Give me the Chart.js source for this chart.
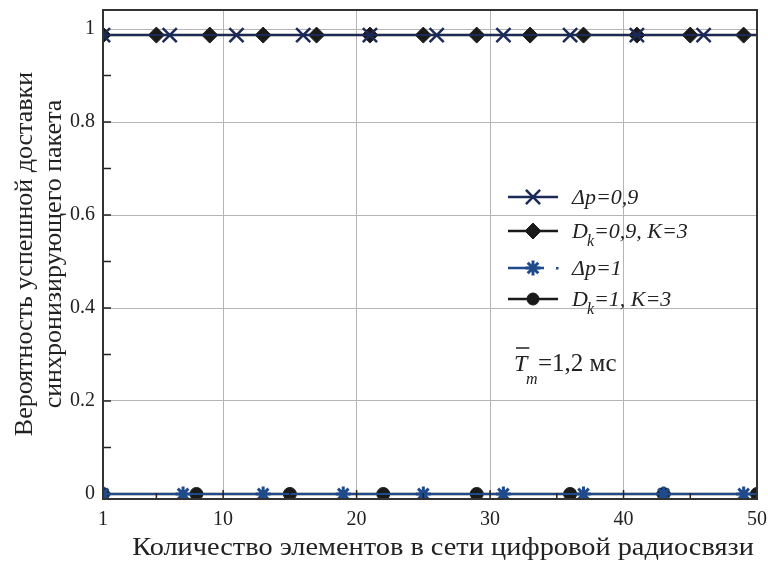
<!DOCTYPE html>
<html>
<head>
<meta charset="utf-8">
<script src="https://cdn.jsdelivr.net/npm/chart.js@4.4.1/dist/chart.umd.min.js"></script>
<style>
  html, body { margin: 0; padding: 0; background: #fff; }
  #wrap { width: 768px; height: 562px; position: relative; }
</style>
</head>
<body>
<div id="wrap"><canvas id="chart" width="768" height="562"></canvas></div>
<script>
// values
const dp09X = [1, 6, 11, 16, 21, 26, 31, 36, 41, 46, 50];
const dp09Y = [0.987, 0.987, 0.987, 0.987, 0.987, 0.987, 0.987, 0.987, 0.987, 0.987, 0.987];
const dk09X = [1, 5, 9, 13, 17, 21, 25, 29, 33, 37, 41, 45, 49, 50];
const dk09Y = [0.987, 0.987, 0.987, 0.987, 0.987, 0.987, 0.987, 0.987, 0.987, 0.987, 0.987, 0.987, 0.987, 0.987];
const dp1X = [1, 7, 13, 19, 25, 31, 37, 43, 49, 50];
const dp1Y = [0, 0, 0, 0, 0, 0, 0, 0, 0, 0];
const dk1X = [1, 8, 15, 22, 29, 36, 43, 50];
const dk1Y = [0, 0, 0, 0, 0, 0, 0, 0];

const xTicks = [1, 10, 20, 30, 40, 50];
const xMinor = [5, 15, 25, 35, 45];
const yTicks = [0, 0.2, 0.4, 0.6, 0.8, 1];
const yTickLabels = ['0', '0.2', '0.4', '0.6', '0.8', '1'];
const yMinor = [0.1, 0.3, 0.5, 0.7, 0.9];

const seriesNames = ['Δp=0,9', 'Dk=0,9, K=3', 'Δp=1', 'Dk=1, K=3'];
const xTitle = 'Количество элементов в сети цифровой радиосвязи';
const yTitle = ['Вероятность успешной доставки', 'синхронизирующего пакета'];

const NAVY = '#1c2a58';
const BLUE = '#1f4b8c';
const INK = '#1a1a1a';
const SERIF = '"Liberation Serif", "Times New Roman", serif';

function pts(xs, ys) {
    return xs.map((x, i) => ({ x: x, y: ys[i] }));
}

// the closing point at x=50 carries no marker unless it is one
function radiusFor(r, endMarker) {
    return ctx => (!endMarker && ctx.dataIndex === ctx.dataset.data.length - 1) ? 0 : r;
}

const frame = {
    id: 'frame',
    afterDatasetsDraw(chart) {
        const { ctx, chartArea: a, scales } = chart;
        const xs = scales.x, ys = scales.y;
        ctx.save();
        ctx.strokeStyle = '#222';
        ctx.lineWidth = 1.5;
        ctx.beginPath();
        xMinor.forEach(v => {
            const px = xs.getPixelForValue(v);
            ctx.moveTo(px, a.bottom); ctx.lineTo(px, a.bottom - 6);
        });
        xTicks.slice(1, -1).forEach(v => {
            const px = xs.getPixelForValue(v);
            ctx.moveTo(px, a.bottom); ctx.lineTo(px, a.bottom - 9);
        });
        yMinor.forEach(v => {
            const py = ys.getPixelForValue(v);
            ctx.moveTo(a.left, py); ctx.lineTo(a.left + 8, py);
        });
        yTicks.slice(1, -1).forEach(v => {
            const py = ys.getPixelForValue(v);
            ctx.moveTo(a.left, py); ctx.lineTo(a.left + 8, py);
        });
        ctx.stroke();
        ctx.lineWidth = 2;
        ctx.strokeStyle = '#333';
        ctx.strokeRect(a.left, a.top, a.right - a.left, a.bottom - a.top);
        ctx.restore();
    },
    afterDraw(chart) {
        const { ctx } = chart;
        ctx.save();
        ctx.fillStyle = '#222';
        // axis titles
        ctx.font = '26px ' + SERIF;
        ctx.textAlign = 'center';
        ctx.textBaseline = 'alphabetic';
        ctx.save();
        ctx.translate(443, 555);
        ctx.scale(1.09, 1);
        ctx.fillText(xTitle, 0, 0);
        ctx.restore();
        ctx.save();
        ctx.translate(32, 254);
        ctx.rotate(-Math.PI / 2);
        ctx.fillText(yTitle[0], 0, 0);
        ctx.fillText(yTitle[1], 0, 29);
        ctx.restore();

        // legend
        const rows = [197, 231, 268, 299];
        const ds = chart.data.datasets;
        ctx.textAlign = 'left';
        rows.forEach((y, i) => {
            const d = ds[i];
            ctx.strokeStyle = d.borderColor;
            ctx.lineWidth = 2.5;
            ctx.beginPath();
            if (i === 2) {
                ctx.moveTo(508, y); ctx.lineTo(544, y);
            } else {
                ctx.moveTo(508, y); ctx.lineTo(558, y);
            }
            ctx.stroke();
            if (i === 2) {
                ctx.fillStyle = d.borderColor;
                ctx.fillRect(556, y - 1, 2.5, 2.5);
            }
            ctx.fillStyle = d.pointBackgroundColor;
            ctx.strokeStyle = d.pointBorderColor;
            ctx.lineWidth = d.pointBorderWidth;
            Chart.helpers.drawPoint(ctx, {
                pointStyle: d.pointStyle, radius: d.legendRadius, rotation: 0,
                borderWidth: d.pointBorderWidth
            }, 533, y);

            ctx.fillStyle = '#222';
            const base = y + 7;
            const name = seriesNames[i];
            ctx.font = 'italic 22px ' + SERIF;
            if (name.startsWith('Dk')) {
                ctx.fillText('D', 572, base);
                let x = 572 + ctx.measureText('D').width;
                ctx.font = 'italic 16px ' + SERIF;
                ctx.fillText('k', x - 1, base + 8);
                x += ctx.measureText('k').width;
                ctx.font = 'italic 22px ' + SERIF;
                ctx.fillText(name.slice(2), x - 1, base);
            } else {
                ctx.fillText(name, 572, base);
            }
        });

        // T_m annotation
        ctx.font = 'italic 24px ' + SERIF;
        ctx.fillText('T', 514, 371);
        const tw = ctx.measureText('T').width;
        ctx.strokeStyle = '#222';
        ctx.lineWidth = 1.5;
        ctx.beginPath();
        ctx.moveTo(516, 348); ctx.lineTo(516 + tw, 348);
        ctx.stroke();
        ctx.font = 'italic 16px ' + SERIF;
        ctx.fillText('m', 526, 384);
        ctx.font = '25px ' + SERIF;
        ctx.fillText('=1,2 мс', 538, 371);
        ctx.restore();
    }
};

new Chart(document.getElementById('chart'), {
    type: 'line',
    data: {
        datasets: [
            {
                label: seriesNames[0], data: pts(dp09X, dp09Y),
                borderColor: NAVY, borderWidth: 2,
                pointStyle: 'crossRot', pointRadius: radiusFor(10, false), legendRadius: 10,
                pointBorderColor: NAVY, pointBackgroundColor: NAVY, pointBorderWidth: 2.5,
                order: 2
            },
            {
                label: seriesNames[1], data: pts(dk09X, dk09Y),
                borderColor: INK, borderWidth: 2.5,
                pointStyle: 'rectRot', pointRadius: radiusFor(8, false), legendRadius: 8,
                pointBorderColor: INK, pointBackgroundColor: INK, pointBorderWidth: 1,
                order: 3
            },
            {
                label: seriesNames[2], data: pts(dp1X, dp1Y),
                borderColor: BLUE, borderWidth: 2,
                pointStyle: 'star', pointRadius: radiusFor(7.5, false), legendRadius: 7.5,
                pointBorderColor: BLUE, pointBackgroundColor: BLUE, pointBorderWidth: 3,
                order: 1
            },
            {
                label: seriesNames[3], data: pts(dk1X, dk1Y),
                borderColor: INK, borderWidth: 2.5,
                pointStyle: 'circle', pointRadius: radiusFor(6.5, true), legendRadius: 6,
                pointBorderColor: INK, pointBackgroundColor: INK, pointBorderWidth: 1,
                order: 4
            }
        ]
    },
    options: {
        responsive: false,
        animation: false,
        clip: 0,
        layout: { autoPadding: false, padding: { top: 10, right: 11, left: 0, bottom: 0 } },
        plugins: { legend: { display: false }, tooltip: { enabled: false } },
        scales: {
            x: {
                type: 'linear', min: 1, max: 50,
                afterBuildTicks: s => { s.ticks = xTicks.map(v => ({ value: v })); },
                afterFit: s => { s.height = 63; s.paddingLeft = 0; s.paddingRight = 0; },
                ticks: {
                    color: '#222', padding: 9, maxRotation: 0, autoSkip: false,
                    font: { family: SERIF, size: 20 }
                },
                grid: {
                    drawTicks: false,
                    color: c => (c.tick && (c.tick.value === 1 || c.tick.value === 50)) ? 'rgba(0,0,0,0)' : '#b5b5b5',
                    lineWidth: 1
                },
                border: { display: false }
            },
            y: {
                type: 'linear', min: -0.0108, max: 1.041,
                afterBuildTicks: s => { s.ticks = yTicks.map(v => ({ value: v })); },
                afterFit: s => { s.width = 103; s.paddingTop = 0; s.paddingBottom = 0; },
                ticks: {
                    color: '#222', padding: 8,
                    font: { family: SERIF, size: 20 },
                    callback: v => yTickLabels[yTicks.indexOf(v)]
                },
                grid: {
                    drawTicks: false,
                    color: c => (c.tick && c.tick.value === 0) ? 'rgba(0,0,0,0)' : '#b5b5b5',
                    lineWidth: 1
                },
                border: { display: false }
            }
        }
    },
    plugins: [frame]
});
</script>
</body>
</html>
